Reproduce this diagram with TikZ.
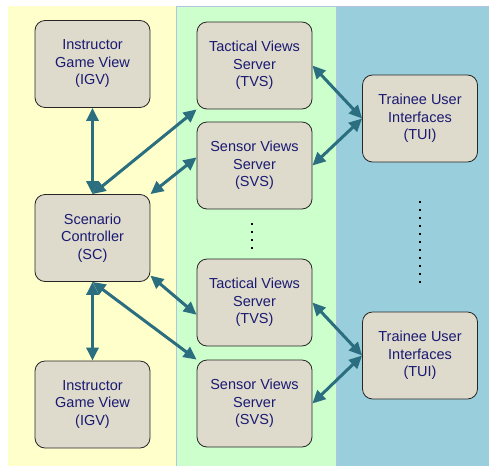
\documentclass[tikz,border=0pt]{standalone}
\usepackage{fontspec}
\setmainfont{Liberation Sans}
\usetikzlibrary{arrows.meta}
\definecolor{bgyellow}{HTML}{FFFFCC}
\definecolor{bggreen}{HTML}{CCFFCC}
\definecolor{bgblue}{HTML}{99CFDD}
\definecolor{edgeline}{HTML}{B4C4E0}
\definecolor{boxfill}{HTML}{DEDACC}
\definecolor{boxtext}{HTML}{1A1A72}
\definecolor{arrowc}{HTML}{2A6E80}
\tikzset{
  comp/.style={draw=black!85, line width=0.8pt, fill=boxfill, rounded corners=10pt,
    minimum width=115pt, minimum height=87pt, inner sep=0pt, align=center,
    text=boxtext, font=\fontsize{14.5}{17.5}\selectfont},
  link/.style={draw=arrowc, line width=3pt,
    {Triangle[length=13pt,width=12pt]}-{Triangle[length=13pt,width=12pt]}, shorten <=0pt, shorten >=0pt},
  dotmark/.style={fill=black, draw=none}
}
\begin{document}
\begin{tikzpicture}[x=1pt,y=-1pt]
\useasboundingbox (0,0) rectangle (489,466);
% backgrounds
\fill[bgyellow] (8,6) rectangle (176,466);
\fill[bggreen] (176,6) rectangle (336,466);
\fill[bgblue] (336,6) rectangle (489,466);
\draw[edgeline, line width=1pt] (176.5,466) -- (176.5,6.5) -- (489,6.5);
\draw[edgeline, line width=1pt] (336,6.5) -- (336,466);
% nodes
\node[comp] (igv1) at (92.5,64) {Instructor\\Game View\\(IGV)};
\node[comp] (sc) at (92.5,238) {Scenario\\Controller\\(SC)};
\node[comp] (igv2) at (92.5,404.5) {Instructor\\Game View\\(IGV)};
\node[comp] (tvs1) at (254.5,65.5) {Tactical Views\\Server\\(TVS)};
\node[comp] (svs1) at (254.5,165.5) {Sensor Views\\Server\\(SVS)};
\node[comp] (tvs2) at (254.5,302.5) {Tactical Views\\Server\\(TVS)};
\node[comp] (svs2) at (254.5,403.5) {Sensor Views\\Server\\(SVS)};
\node[comp] (tui1) at (420,118.5) {Trainee User\\Interfaces\\(TUI)};
\node[comp] (tui2) at (420,355.5) {Trainee User\\Interfaces\\(TUI)};
% dots
\foreach \y in {223,231,239,247} \fill[dotmark] (251,\y) rectangle (253,\y+2);
\foreach \i in {0,...,10} \fill[dotmark] (419,201+8*\i) rectangle (421,203+8*\i);
% connectors
\draw[link] (igv1.south) -- (sc.north);
\draw[link] (sc.north) -- (tvs1.south west);
\draw[link] (sc.north east) -- (svs1.172);
\draw[link] (sc.south) -- (igv2.north);
\draw[link] (sc.south) -- (svs2.north west);
\draw[link] (sc.327) -- (tvs2.192);
\draw[link] (tvs1.east) -- (tui1.west);
\draw[link] (svs1.east) -- (tui1.west);
\draw[link] (tvs2.east) -- (tui2.west);
\draw[link] (svs2.east) -- (tui2.west);
\end{tikzpicture}
\end{document}
